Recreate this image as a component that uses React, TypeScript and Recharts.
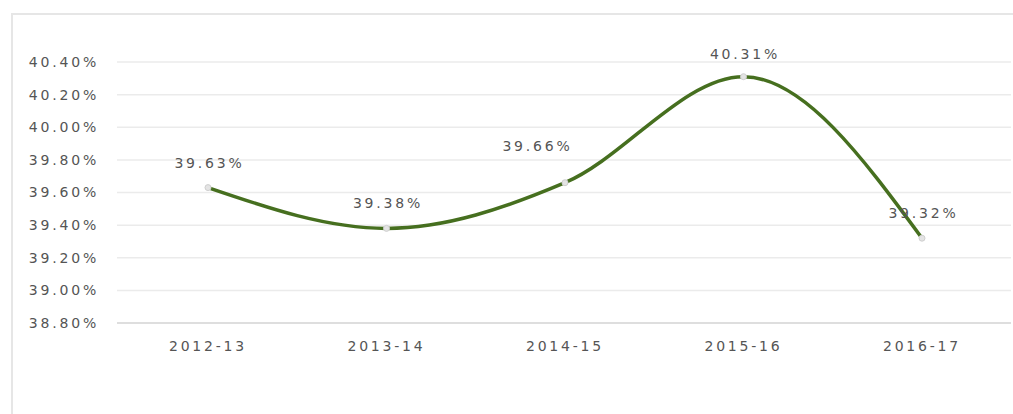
import { LineChart, Line, XAxis, YAxis, CartesianGrid, LabelList } from "recharts";

const years = ["2012-13", "2013-14", "2014-15", "2015-16", "2016-17"];
const shares = [39.63, 39.38, 39.66, 40.31, 39.32];
const yTicks = [38.8, 39.0, 39.2, 39.4, 39.6, 39.8, 40.0, 40.2, 40.4];

const data = years.map((year, i) => ({ year, share: shares[i] }));

const fmt = (v: number) => `${v.toFixed(2)}%`;
const textStyle = { fontFamily: "DejaVu Sans", fontSize: 14, letterSpacing: 2.8, fill: "#555555" };

const ValueLabel = (props: any) => {
  const { x, y, value, index } = props;
  // the 2014-15 label sits up and to the left of its point
  const dx = index === 2 ? -29 : 0;
  const dy = index === 2 ? -32 : index === 3 ? -18 : -20;
  return (
    <text x={x + dx + 1.5} y={y + dy} textAnchor="middle" style={textStyle}>
      {fmt(value)}
    </text>
  );
};

const App = () => {
  return (
    <div
      style={{
        position: "absolute",
        left: 0,
        top: 0,
        width: 1013,
        height: 414,
        background: "#fff",
      }}
    >
      <div
        style={{
          position: "absolute",
          left: 11,
          top: 13,
          right: 0,
          bottom: 0,
          borderLeft: "2px solid #e6e6e6",
          borderTop: "2px solid #e6e6e6",
        }}
      />
      <LineChart
        width={1013}
        height={414}
        data={data}
        margin={{ top: 62, right: 2, left: 12, bottom: 61 }}
        style={{ position: "absolute", left: 0, top: 0 }}
      >
        <CartesianGrid vertical={false} stroke="#ebebeb" strokeWidth={1.5} />
        <XAxis
          dataKey="year"
          padding={{ left: 91, right: 89 }}
          axisLine={{ stroke: "#d9d9d9", strokeWidth: 1.5 }}
          tickLine={false}
          tickMargin={12}
          height={30}
          tick={{ ...textStyle }}
        />
        <YAxis
          width={105}
          domain={[38.8, 40.4]}
          ticks={yTicks}
          allowDataOverflow
          axisLine={false}
          tickLine={false}
          tickMargin={12}
          tickFormatter={fmt}
          tick={{ ...textStyle }}
        />
        <Line
          type="monotone"
          dataKey="share"
          stroke="#466f1f"
          strokeWidth={3.5}
          dot={{ r: 3, fill: "#e4e4e4", stroke: "#cfcfcf", strokeWidth: 1 }}
          activeDot={false}
          isAnimationActive={false}
        >
          <LabelList dataKey="share" content={ValueLabel} />
        </Line>
      </LineChart>
    </div>
  );
};

export default App;
